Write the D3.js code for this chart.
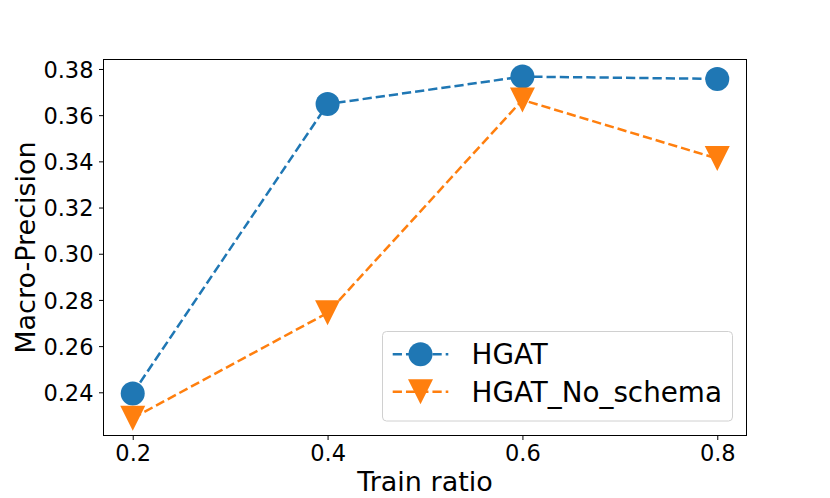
<!DOCTYPE html>
<html>
<head>
<meta charset="utf-8">
<script src="https://d3js.org/d3.v7.min.js"></script>
<style>
  body { margin: 0; background: #fff; }
  svg { display: block; font-family: "DejaVu Sans", sans-serif; }
</style>
</head>
<body>
<svg></svg>
<script>
let ratios = [0.2, 0.4, 0.6, 0.8]
let hgat = [0.2395, 0.3648, 0.3767, 0.3757]
let noSchema = [0.2288, 0.2744, 0.3666, 0.3412]
let seriesNames = ['HGAT', 'HGAT_No_schema']
let yTicks = [0.24, 0.26, 0.28, 0.30, 0.32, 0.34, 0.36, 0.38]

let width = 830
let height = 498
let plotLeft = 103.5, plotRight = 746.5, plotTop = 59.5, plotBottom = 435.5

let svg = d3.select('svg').attr('width', width).attr('height', height)

let xScale = d3.scaleLinear().domain([0.17, 0.83]).range([plotLeft, plotRight])
let yScale = d3.scaleLinear().domain([0.2213, 0.3841]).range([plotBottom, plotTop])

// axes
let xAxis = d3.axisBottom(xScale).tickValues(ratios).tickFormat(d3.format('.1f')).tickSizeOuter(0).tickSize(4.5).tickPadding(5)
let yAxis = d3.axisLeft(yScale).tickValues(yTicks).tickFormat(d3.format('.2f')).tickSizeOuter(0).tickSize(4.5).tickPadding(5.5)

let gx = svg.append('g').attr('transform', 'translate(0,' + plotBottom + ')').call(xAxis)
let gy = svg.append('g').attr('transform', 'translate(' + plotLeft + ',0)').call(yAxis)
gx.select('.domain').remove()
gy.select('.domain').remove()
gx.selectAll('text').attr('font-size', 22.5).attr('font-family', 'DejaVu Sans').attr('fill', '#000')
gy.selectAll('text').attr('font-size', 22.5).attr('font-family', 'DejaVu Sans').attr('fill', '#000').attr('dy', '0.36em')
svg.selectAll('.tick line').attr('stroke', '#000').attr('stroke-width', 1)

svg.append('rect')
  .attr('x', plotLeft).attr('y', plotTop)
  .attr('width', plotRight - plotLeft).attr('height', plotBottom - plotTop)
  .attr('fill', 'none').attr('stroke', '#000').attr('stroke-width', 1)

// axis titles
svg.append('text')
  .attr('x', (plotLeft + plotRight) / 2).attr('y', 491)
  .attr('text-anchor', 'middle').attr('font-size', 27)
  .text('Train ratio')
svg.append('text')
  .attr('transform', 'translate(35,' + (plotTop + plotBottom) / 2 + ') rotate(-90)')
  .attr('text-anchor', 'middle').attr('font-size', 27)
  .text('Macro-Precision')

// series
let series = [
  { name: seriesNames[0], values: hgat, color: '#1f77b4', marker: 'circle' },
  { name: seriesNames[1], values: noSchema, color: '#ff7f0e', marker: 'tri' }
]

let line = d3.line().x((d, i) => xScale(ratios[i])).y(d => yScale(d))

let drawMarker = (g, s, cx, cy) => {
  if (s.marker === 'circle') {
    g.append('circle').attr('cx', cx).attr('cy', cy).attr('r', 12).attr('fill', s.color)
  } else {
    let r = 12.5
    g.append('path')
      .attr('d', 'M' + (cx - r) + ',' + (cy - r) + 'L' + (cx + r) + ',' + (cy - r) + 'L' + cx + ',' + (cy + r) + 'Z')
      .attr('fill', s.color)
  }
}

series.forEach(s => {
  svg.append('path')
    .attr('d', line(s.values))
    .attr('fill', 'none')
    .attr('stroke', s.color)
    .attr('stroke-width', 2.5)
    .attr('stroke-dasharray', '9.25,4')
  let g = svg.append('g')
  s.values.forEach((v, i) => drawMarker(g, s, xScale(ratios[i]), yScale(v)))
})

// legend
let legend = svg.append('g')
legend.append('rect')
  .attr('x', 382.5).attr('y', 331.5).attr('width', 350).attr('height', 89.5)
  .attr('rx', 4).attr('fill', '#fff').attr('fill-opacity', 0.8)
  .attr('stroke', '#d0d0d0').attr('stroke-width', 1)

series.forEach((s, i) => {
  let cy = 354.3 + i * 37.4
  legend.append('line')
    .attr('x1', 392.7).attr('x2', 448.3).attr('y1', cy).attr('y2', cy)
    .attr('stroke', s.color).attr('stroke-width', 2.5).attr('stroke-dasharray', '9.25,4')
  drawMarker(legend, s, 420.5, cy)
  legend.append('text')
    .attr('x', 471.5).attr('y', cy).attr('dy', '0.36em')
    .attr('font-size', 27.8)
    .text(s.name)
})
</script>
</body>
</html>
